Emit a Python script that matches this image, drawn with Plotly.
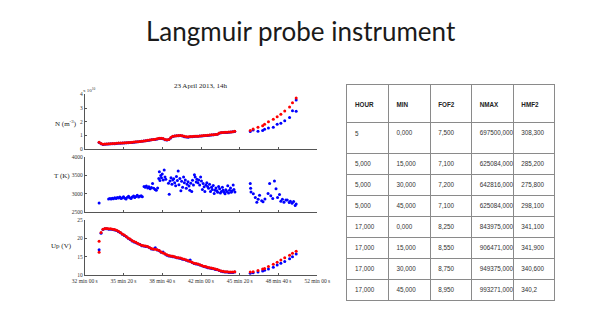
import plotly.graph_objects as go

# ---------------- data ----------------
# time in seconds (32 min 00 s = 1920 s)
t_left = [1994, 2004, 2014, 2024, 2034, 2044, 2054, 2064, 2074, 2084, 2094, 2104, 2114, 2124, 2134,
          2144, 2154, 2164, 2174, 2184, 2194, 2204, 2214, 2224, 2234, 2244, 2254, 2264, 2274, 2284,
          2294, 2304, 2314, 2324, 2334, 2344, 2354, 2364, 2374, 2384, 2394, 2404, 2414, 2424, 2434,
          2444, 2454, 2464, 2474, 2484, 2494, 2504, 2514, 2524, 2534, 2544, 2554, 2564, 2574, 2584,
          2594, 2604, 2614, 2624, 2634, 2644, 2654, 2664, 2674, 2684, 2694]
t_right = [2774, 2789, 2814, 2838, 2848, 2868, 2893, 2913, 2932, 2952, 2977, 2992, 3011]

n_red_left = [0.52, 0.42, 0.36, 0.38, 0.39, 0.40, 0.41, 0.42, 0.42, 0.44, 0.45, 0.45, 0.46, 0.47, 0.48,
              0.49, 0.50, 0.51, 0.53, 0.54, 0.55, 0.57, 0.59, 0.61, 0.63, 0.65, 0.68, 0.70, 0.72, 0.73,
              0.76, 0.80, 0.80, 0.78, 0.72, 0.70, 0.72, 0.85, 0.95, 0.97, 0.99, 1.00, 1.01, 0.98, 0.94,
              0.92, 0.92, 0.93, 0.93, 0.94, 0.95, 0.95, 0.97, 0.98, 1.00, 1.01, 1.02, 1.04, 1.05, 1.06,
              1.08, 1.10, 1.18, 1.22, 1.23, 1.24, 1.24, 1.25, 1.26, 1.28, 1.32]
n_blue_left = [0.50, 0.40, 0.35, 0.37, 0.38, 0.39, 0.40, 0.41, 0.41, 0.43, 0.44, 0.44, 0.45, 0.46, 0.47,
               0.48, 0.49, 0.50, 0.52, 0.53, 0.54, 0.56, 0.58, 0.60, 0.62, 0.64, 0.66, 0.69, 0.71, 0.72,
               0.75, 0.78, 0.79, 0.77, 0.70, 0.68, 0.71, 0.83, 0.93, 0.96, 0.98, 0.99, 1.00, 0.97, 0.92,
               0.90, 0.88, 0.91, 0.92, 0.93, 0.94, 0.94, 0.96, 0.97, 0.99, 1.00, 1.01, 1.03, 1.04, 1.05,
               1.07, 1.09, 1.16, 1.20, 1.22, 1.23, 1.23, 1.24, 1.25, 1.27, 1.30]
n_red_right = [1.36, 1.48, 1.60, 1.71, 1.83, 2.00, 2.19, 2.36, 2.55, 2.79, 3.07, 3.38, 3.74]
n_blue_right = [1.30, 1.41, 1.31, 1.36, 1.45, 1.55, 1.60, 1.83, 1.90, 2.07, 2.31, 2.80, 2.76]
t_blue_extra = [3011]
n_blue_extra = [3.58]

up_red_left = [16.2, 21.6, 22.5, 22.7, 22.7, 22.6, 22.6, 22.5, 22.4, 22.2, 21.9, 21.6, 21.2, 20.9, 20.5,
               20.1, 19.8, 19.4, 19.1, 18.9, 18.6, 18.3, 18.1, 18.0, 17.9, 17.8, 17.5, 17.2, 17.1, 17.0,
               16.9, 16.7, 16.3, 16.0, 15.8, 15.5, 15.3, 15.2, 15.1, 15.0, 14.8, 14.7, 14.6, 14.4, 14.3,
               14.1, 13.9, 13.7, 13.5, 13.2, 13.1, 13.0, 12.8, 12.6, 12.4, 12.3, 12.1, 12.0, 11.9, 11.8,
               11.6, 11.5, 11.3, 11.1, 11.0, 10.9, 10.9, 10.8, 10.8, 10.8, 10.9]
up_blue_left = [16.9, 21.4, 22.4, 22.6, 22.6, 22.5, 22.5, 22.4, 22.3, 22.1, 21.8, 21.5, 21.1, 20.8, 20.4,
                20.0, 19.7, 19.3, 19.0, 18.8, 18.5, 18.4, 18.0, 17.9, 17.8, 17.7, 17.4, 17.1, 17.0, 17.4,
                16.8, 16.6, 16.2, 16.3, 15.7, 15.4, 15.2, 15.1, 15.0, 14.9, 14.7, 14.6, 14.5, 14.3, 14.2,
                14.0, 13.8, 14.1, 13.4, 13.1, 13.0, 12.9, 12.7, 12.5, 12.3, 12.2, 12.0, 11.9, 11.8, 11.7,
                11.5, 11.4, 11.2, 11.0, 10.9, 10.8, 10.8, 10.7, 10.7, 10.7, 10.8]
up_red_right = [10.8, 10.9, 11.2, 11.6, 11.8, 12.3, 12.9, 13.5, 14.1, 14.7, 15.4, 15.9, 16.5]
up_blue_right = [10.5, 10.6, 10.8, 11.1, 11.3, 11.6, 12.1, 12.7, 13.2, 13.7, 14.4, 15.0, 15.7]
t_red_extra = [1994]
up_red_extra = [19.2]

t_temp = [1994, 2043, 2050, 2056, 2062, 2068, 2075, 2082, 2088, 2095, 2101, 2108, 2114, 2120, 2127,
          2133, 2140, 2146, 2152, 2159, 2165, 2172, 2178, 2185, 2191, 2198, 2204, 2211, 2217,
          2226, 2232, 2238, 2245, 2251, 2258, 2264, 2270, 2276, 2283, 2289, 2296,
          2302, 2305, 2308, 2312, 2316, 2320, 2325, 2330, 2334, 2338,
          2352, 2356, 2360, 2365, 2370, 2374, 2379, 2384, 2389, 2393, 2398, 2402, 2406, 2411, 2416,
          2420, 2425, 2430, 2434, 2439, 2444, 2448, 2453, 2458, 2462, 2467, 2472, 2476, 2481,
          2486, 2490, 2495, 2499, 2504, 2508, 2513, 2518, 2522, 2527, 2531, 2536, 2540, 2545, 2550,
          2554, 2559, 2564, 2569, 2574, 2578, 2583, 2588, 2592, 2597, 2602, 2606, 2611, 2616, 2620,
          2625, 2630, 2634, 2639, 2644, 2648, 2653, 2658, 2662, 2667, 2672, 2676, 2681, 2686, 2690, 2695,
          2774, 2776, 2778, 2790, 2800, 2808, 2815, 2822, 2833, 2840, 2850, 2866, 2874, 2880, 2890,
          2899, 2907, 2915, 2925, 2932, 2940, 2948, 2958, 2965, 2975, 2981, 2990, 2998, 3006, 3011]
temp = [2750, 2860, 2870, 2855, 2880, 2865, 2890, 2875, 2900, 2885, 2910, 2870, 2895, 2920, 2880,
        2860, 2905, 2930, 2890, 2875, 2915, 2940, 2900, 2925, 2960, 2910, 2935, 2945, 2920,
        3200, 3180, 3215, 3160, 3195, 3140, 3170, 3280, 3150, 3120, 3100, 3160,
        3420, 3600, 3360, 3500, 3440, 3540, 3380, 3650, 3460, 3400,
        3290, 2990, 3350, 3440, 3260, 3380, 3410, 3300, 3220, 3470, 3360, 3620, 3250, 3420, 3080,
        3340, 3180, 3460, 3300, 3380, 3150, 3260, 3330, 3210, 3100, 3290, 3060, 3370, 3240,
        3520, 3460, 3320, 3400, 3300, 3380, 3240, 3460, 3350, 3120, 3280, 3190, 3060, 3240, 3300,
        3200, 3150, 3260, 3060, 3180, 3120, 3230, 3010, 3100, 3160, 3080, 3040, 3200, 3140, 3020,
        3060, 3180, 3100, 3040, 3000, 3110, 3060, 3220, 3020, 3100, 3160, 3040, 3080, 3240, 3120, 3050,
        3280, 3150, 3050, 3000, 2900, 2770, 2850, 2960, 2810, 2780, 2860, 3010, 3280, 2950, 2870,
        3350, 3140, 2900, 2980, 2800, 2850, 2770, 2830, 2830, 2760, 2800, 2740, 2790, 2680, 2720]

x_tick_vals = [1920, 2120, 2320, 2520, 2720, 2920, 3120]
x_tick_text = ["32 min 00 s", "35 min 20 s", "38 min 40 s", "42 min 00 s",
               "45 min 20 s", "48 min 40 s", "52 min 00 s"]

table_header = ["HOUR", "MIN", "FOF2", "NMAX", "HMF2"]
col_hour = ["5", "5,000", "5,000", "5,000", "17,000", "17,000", "17,000", "17,000"]
col_min = ["0,000", "15,000", "30,000", "45,000", "0,000", "15,000", "30,000", "45,000"]
col_fof2 = ["7,500", "7,100", "7,200", "7,100", "8,250", "8,550", "8,750", "8,950"]
col_nmax = ["697500,000", "625084,000", "642816,000", "625084,000",
            "843975,000", "906471,000", "949375,000", "993271,000"]
col_hmf2 = ["308,300", "285,200", "275,800", "298,100", "341,100", "341,900", "340,600", "340,2"]

# ---------------- figure ----------------
W, H = 603, 331
RED = "#ff0000"
BLUE = "#0000ff"
SERIF = "Liberation Serif"

def px_x(a, b):
    return [a / W, b / W]

def px_y(top, bottom):
    return [1 - bottom / H, 1 - top / H]

fig = go.Figure()

mk = dict(size=3, symbol="circle", line=dict(width=0))

# top panel N
fig.add_trace(go.Scatter(x=t_left + t_right + t_blue_extra, y=n_blue_left + n_blue_right + n_blue_extra,
                         mode="markers", marker=dict(color=BLUE, **mk), xaxis="x", yaxis="y"))
fig.add_trace(go.Scatter(x=t_left + t_right, y=n_red_left + n_red_right,
                         mode="markers", marker=dict(color=RED, **mk), xaxis="x", yaxis="y"))
# middle panel T
fig.add_trace(go.Scatter(x=t_temp, y=temp, mode="markers",
                         marker=dict(color=BLUE, **mk), xaxis="x2", yaxis="y2"))
# bottom panel Up
fig.add_trace(go.Scatter(x=t_left + t_right, y=up_blue_left + up_blue_right,
                         mode="markers", marker=dict(color=BLUE, **mk), xaxis="x3", yaxis="y3"))
fig.add_trace(go.Scatter(x=t_left + t_right + t_red_extra, y=up_red_left + up_red_right + up_red_extra,
                         mode="markers", marker=dict(color=RED, **mk), xaxis="x3", yaxis="y3"))

# table (first row is taller in the original: give it a second, blank line;
# header text is vertically centred: push it down with a blank first line)
hdr = ["\u00a0<br><b>" + h + "</b>" for h in table_header]
hour_cells = [v + "<br>\u00a0" if i == 0 else v for i, v in enumerate(col_hour)]
cols = [hour_cells, col_min, col_fof2, col_nmax, col_hmf2]
fig.add_trace(go.Table(
    domain=dict(x=px_x(349, 567), y=px_y(83, 306)),
    columnwidth=[1, 1, 1, 1, 1],
    header=dict(values=hdr, height=38, align="left", fill_color="white",
                line=dict(color="#8a8a8a", width=1),
                font=dict(family="Liberation Sans", size=6.3, color="#222")),
    cells=dict(values=cols, height=21, align="left", fill_color="white",
               line=dict(color="#8a8a8a", width=1),
               font=dict(family="Liberation Sans", size=6.3, color="#333")),
))

xdom = px_x(75, 318)
axis_common = dict(range=[1920, 3120], tickvals=x_tick_vals, ticks="inside", ticklen=2,
                   showline=True, linecolor="#555", linewidth=1, tickcolor="#555",
                   showgrid=False, zeroline=False, domain=xdom,
                   tickfont=dict(family=SERIF, size=5.5, color="#333"))
yaxis_common = dict(ticks="inside", ticklen=2, showline=True, linecolor="#555", linewidth=1,
                    tickcolor="#555", showgrid=False, zeroline=False,
                    tickfont=dict(family=SERIF, size=5.5, color="#333"))

fig.update_layout(
    width=W, height=H, margin=dict(l=0, r=0, t=0, b=0),
    paper_bgcolor="white", plot_bgcolor="white", showlegend=False,
    xaxis=dict(anchor="y", showticklabels=False, **axis_common),
    xaxis2=dict(anchor="y2", showticklabels=False, **axis_common),
    xaxis3=dict(anchor="y3", showticklabels=True, ticktext=x_tick_text, **axis_common),
    yaxis=dict(anchor="x", domain=px_y(93, 149), range=[0, 4], tickvals=[0, 1, 2, 3, 4], **yaxis_common),
    yaxis2=dict(anchor="x2", domain=px_y(157, 213), range=[2500, 4000],
                tickvals=[2500, 3000, 3500, 4000], **yaxis_common),
    yaxis3=dict(anchor="x3", domain=px_y(221, 277), range=[10, 25],
                tickvals=[10, 15, 20, 25], **yaxis_common),
    annotations=[
        dict(text="Langmuir probe instrument", x=301 / W, y=1 - 29 / H, xref="paper", yref="paper",
             showarrow=False, xanchor="center", yanchor="middle",
             font=dict(family="Lato", size=26, color="#1a1a1a")),
        dict(text="23 April 2013, 14h", x=196 / W, y=1 - 85 / H, xref="paper", yref="paper",
             showarrow=False, xanchor="center", yanchor="middle",
             font=dict(family=SERIF, size=7, color="#222")),
        dict(text="x 10<sup>10</sup>", x=71 / W, y=1 - 89 / H, xref="paper", yref="paper",
             showarrow=False, xanchor="left", yanchor="middle",
             font=dict(family=SERIF, size=5, color="#333")),
        dict(text="N (m<sup>-3</sup>)", x=55 / W, y=1 - 123 / H, xref="paper", yref="paper",
             showarrow=False, xanchor="center", yanchor="middle",
             font=dict(family=SERIF, size=7, color="#222")),
        dict(text="T (K)", x=51 / W, y=1 - 176 / H, xref="paper", yref="paper",
             showarrow=False, xanchor="center", yanchor="middle",
             font=dict(family=SERIF, size=7, color="#222")),
        dict(text="Up (V)", x=51 / W, y=1 - 247 / H, xref="paper", yref="paper",
             showarrow=False, xanchor="center", yanchor="middle",
             font=dict(family=SERIF, size=7, color="#222")),
    ],
)

fig.write_html("out.html")
